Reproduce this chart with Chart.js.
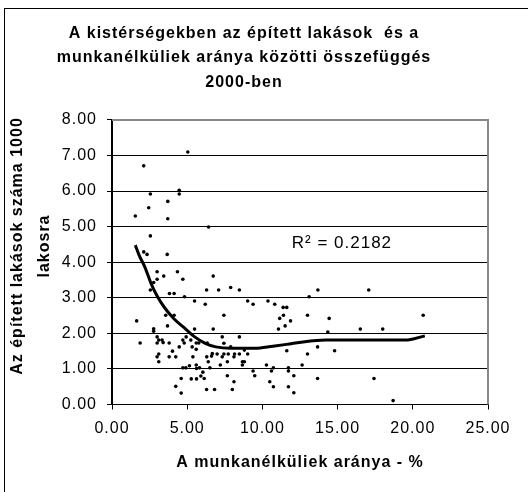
<!DOCTYPE html>
<html>
<head>
<meta charset="utf-8">
<script src="https://cdn.jsdelivr.net/npm/chart.js@4.4.1/dist/chart.umd.min.js"></script>
<style>
  body { margin: 0; background: #fff; }
  canvas { display: block; }
</style>
</head>
<body>
<canvas id="chartCanvas" width="528" height="492"></canvas>
<script>
// munkanélküliek aránya (%) - x
const unemp = [
  5.04,2.11,2.55,4.47,4.47,3.71,2.44,1.55,3.71,6.42,2.55,2.11,2.33,3.67,
  3.0,3.0,3.44,4.35,4.71,2.77,2.55,3.82,4.13,4.82,6.73,5.49,6.2,6.29,3.57,4.13,1.64,3.69,2.77,2.77,
  6.73,5.49,1.87,3.0,3.11,3.33,3.4,3.0,3.8,4.71,4.93,4.8,4.47,4.02,5.24,5.6,5.77,5.33,5.6,6.33,
  6.62,6.67,3.0,3.11,3.11,3.8,4.24,5.38,6.3,4.71,4.91,5.15,5.6,5.62,5.82,6.04,6.51,5.91,5.27,5.62,
  4.6,6.13,4.24,4.6,6.29,6.82,
  7.09,7.89,8.47,9.02,9.38,10.37,10.82,11.38,11.62,11.4,11.15,11.87,11.51,11.07,7.44,13.11,13.69,13.0,
  7.33,8.47,7.44,7.89,13.67,11.62,13.0,6.99,7.44,7.73,8.15,8.47,9.02,7.33,8.11,8.8,8.67,8.8,8.67,6.4,
  7.2,7.67,9.38,9.49,10.27,10.6,10.73,11.73,11.73,12.09,12.64,7.67,8.11,10.49,10.73,11.73,12.09,13.67,8.0,
  17.07,14.44,14.35,16.51,18.0,20.69,14.8,17.42,18.69
];
// épített lakások 1000 lakosra - y
const built = [
  7.10,6.71,5.92,6.02,5.92,5.71,5.53,5.30,5.22,4.99,4.74,4.29,4.22,4.22,
  3.73,3.52,3.61,3.73,3.52,3.43,3.22,3.12,3.12,3.03,3.61,2.91,2.82,3.22,2.51,2.51,2.35,2.21,2.13,2.06,
  2.12,2.12,1.73,1.90,1.81,1.81,1.74,1.73,1.73,1.81,1.90,1.73,1.62,1.50,1.81,1.73,1.73,1.62,1.55,1.73,
  1.36,1.43,1.34,1.42,1.20,1.34,1.34,1.34,1.34,1.03,1.03,1.09,1.11,1.01,1.03,0.91,1.03,0.80,0.72,0.72,
  0.73,0.73,0.51,0.32,0.42,0.42,
  3.22,3.29,3.22,2.91,2.82,2.91,2.82,2.73,2.73,2.51,2.42,2.35,2.21,2.12,2.51,3.03,3.22,2.51,
  1.90,1.90,1.72,1.62,1.62,1.51,1.42,1.42,1.42,1.42,1.42,1.42,1.42,1.34,1.34,1.53,1.20,1.20,1.11,1.20,
  1.11,1.20,0.94,0.81,1.11,0.94,1.03,1.03,0.94,0.81,1.11,0.81,0.64,0.64,0.50,0.50,0.33,0.73,0.42,
  3.22,2.42,2.04,2.12,2.12,2.51,1.51,0.73,0.11
];
// trendvonal
const trendX = [1.55,1.8,2.2,2.6,3.0,3.5,4.1,4.9,5.5,6.2,6.9,7.9,9.5,10.7,11.6,12.7,13.6,14.2,19.5,20.8];
const trendY = [4.48,4.2,3.85,3.4,3.05,2.72,2.42,2.12,1.9,1.72,1.62,1.58,1.58,1.64,1.69,1.76,1.80,1.81,1.81,1.93];

const r2Text = 'R\u00b2 = 0.2182';
const r2Pos = [11.95, 4.54];

const titleLines = ['A kistérségekben az épített lakások  és a', 'munkanélküliek aránya közötti összefüggés', '2000-ben'];
const xTitle = 'A munkanélküliek aránya - %';
const yTitle = ['Az épített lakások száma 1000', 'lakosra'];

const fam = '"Liberation Sans", Arial, sans-serif';

let points = unemp.map((x, i) => ({x: x, y: built[i]}));
let trend = trendX.map((x, i) => ({x: x, y: trendY[i]}));

const framePlugin = {
  id: 'frame',
  beforeDraw(chart) {
    chart.ctx.letterSpacing = '1px';
  },
  afterDraw(chart) {
    const ctx = chart.ctx;
    const a = chart.chartArea;
    ctx.save();
    ctx.strokeStyle = '#888';
    ctx.lineWidth = 2;
    ctx.beginPath();
    ctx.moveTo(a.left, a.top);
    ctx.lineTo(a.right, a.top);
    ctx.lineTo(a.right, a.bottom);
    ctx.stroke();
    ctx.strokeStyle = '#000';
    ctx.lineWidth = 1;
    ctx.strokeRect(4.5, 8.5, 700, 700);

    const xs = chart.scales.x, ys = chart.scales.y;
    ctx.fillStyle = '#000';
    // R2 felirat
    ctx.font = '17px ' + fam;
    ctx.textBaseline = 'middle';
    ctx.textAlign = 'left';
    ctx.fillText(r2Text, xs.getPixelForValue(r2Pos[0]), ys.getPixelForValue(r2Pos[1]));
    // y tengely címe (két sor, elforgatva)
    ctx.font = 'bold 16px ' + fam;
    ctx.textAlign = 'center';
    ctx.translate(18, 246);
    ctx.rotate(-Math.PI / 2);
    yTitle.forEach((line, i) => ctx.fillText(line, 0, i * 27));
    ctx.restore();
  }
};

let mychart = document.getElementById('chartCanvas').getContext('2d');
var chart = new Chart(mychart, {
  type: 'scatter',
  data: {
    datasets: [
      {
        label: 'trend',
        data: trend,
        showLine: true,
        borderColor: '#000',
        borderWidth: 3,
        pointRadius: 0,
        cubicInterpolationMode: 'monotone',
        order: 0
      },
      {
        label: 'kistérségek',
        data: points,
        backgroundColor: '#000',
        borderWidth: 0,
        pointRadius: 1.8,
        order: 1
      }
    ]
  },
  options: {
    responsive: false,
    animation: false,
    devicePixelRatio: 1,
    layout: { padding: { left: 0, right: 40, top: 0, bottom: 0 } },
    plugins: {
      legend: { display: false },
      tooltip: { enabled: false },
      title: {
        display: true,
        text: titleLines,
        color: '#000',
        font: { family: fam, size: 16, weight: 'bold', lineHeight: 1.53 },
        padding: { top: 21, bottom: 25.5 }
      }
    },
    scales: {
      x: {
        type: 'linear',
        min: 0,
        max: 25,
        afterFit: (s) => { s.height = 87.5; },
        ticks: {
          stepSize: 5,
          color: '#000',
          padding: 9,
          font: { family: fam, size: 16 },
          callback: (v) => v.toFixed(2)
        },
        grid: { drawOnChartArea: false, drawTicks: true, tickLength: 5, tickColor: '#000' },
        border: { display: true, color: '#000', width: 1 },
        title: {
          display: true,
          text: xTitle,
          color: '#000',
          font: { family: fam, size: 16, weight: 'bold', lineHeight: 1.2 },
          padding: { top: 0, bottom: 19.4 }
        }
      },
      y: {
        type: 'linear',
        min: 0,
        max: 8,
        afterFit: (s) => { s.width = 112; },
        ticks: {
          stepSize: 1,
          color: '#000',
          padding: 10,
          font: { family: fam, size: 16 },
          callback: (v) => v.toFixed(2)
        },
        grid: { color: '#000', lineWidth: 1, tickLength: 5, tickColor: '#000' },
        border: { display: true, color: '#000', width: 2 },
        title: { display: false }
      }
    }
  },
  plugins: [framePlugin]
});
</script>
</body>
</html>
